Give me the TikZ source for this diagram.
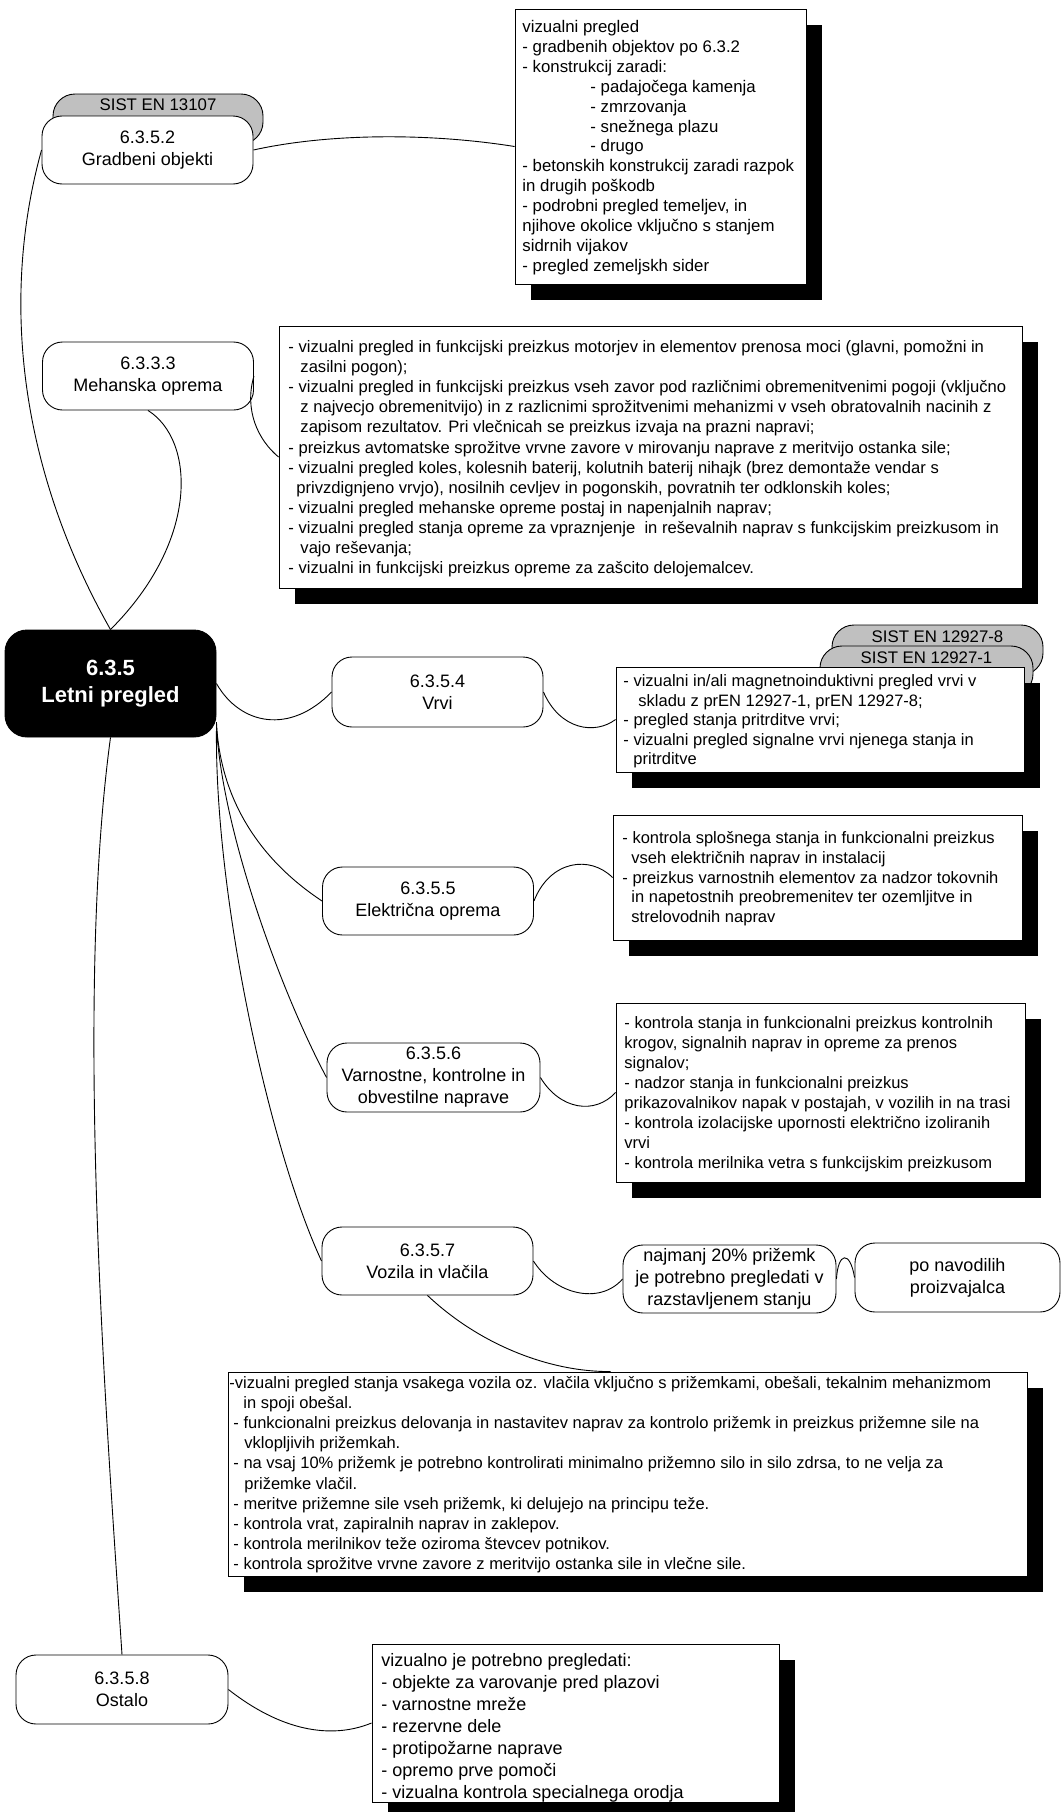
\documentclass[tikz,border=0pt]{standalone}
\usepackage{fontspec}
\setmainfont{Liberation Sans}
\usetikzlibrary{shadows}
\definecolor{tabgray}{RGB}{192,192,192}
\begin{document}
\begin{tikzpicture}[x=1pt,y=-1pt,line width=0.9pt,
  rnode/.style={draw,fill=white,rounded corners=20pt,minimum width=211pt,minimum height=68pt,inner sep=0pt,align=center,font=\fontsize{18}{22}\selectfont},
  mainnode/.style={draw,fill=black,rounded corners=22pt,minimum width=211pt,minimum height=107pt,inner sep=0pt,align=center,text=white,font=\fontsize{22}{27}\selectfont\bfseries},
  tbox/.style={draw,fill=white,inner sep=0pt,drop shadow={shadow xshift=16pt,shadow yshift=-16pt,fill=black,opacity=1}},
  tabshape/.style={draw,fill=tabgray,rounded corners=22pt,minimum height=50pt,inner sep=0pt},
  tabtext/.style={anchor=base,inner sep=0pt,font=\fontsize{16.8}{20}\selectfont},
  btext/.style={anchor=base west,inner sep=0pt,font=\fontsize{16.5}{20}\selectfont},
  conn/.style={line width=0.9pt}]
\useasboundingbox (0,0) rectangle (1063,1812);

% --- 6.3.5.2
\node[tabshape,minimum width=210pt] (tab1) at (158,119) {};
\node[tabtext] (tab1t) at (158,110) {SIST EN 13107};
\node[rnode] (gradb) at (147.5,150) {6.3.5.2\\Gradbeni objekti};
\node[tbox,minimum width=291pt,minimum height=275pt] (b1) at (660.5,146.5) {};
\node[btext,font=\fontsize{16.8}{19.9}\selectfont] (t1) at (522,32.5) {\begin{tabular}[t]{@{}l@{}}
vizualni pregled\\
- gradbenih objektov po 6.3.2\\
- konstrukcij zaradi:\\
\hspace*{68pt}- padajočega kamenja\\
\hspace*{68pt}- zmrzovanja\\
\hspace*{68pt}- snežnega plazu\\
\hspace*{68pt}- drugo\\
- betonskih konstrukcij zaradi razpok\\
in drugih poškodb\\
- podrobni pregled temeljev, in\\
njihove okolice vključno s stanjem\\
sidrnih vijakov\\
- pregled zemeljskh sider
\end{tabular}};

% --- 6.3.3.3
\node[rnode] (meh) at (148,376) {6.3.3.3\\Mehanska oprema};
\node[tbox,minimum width=743pt,minimum height=262pt] (b2) at (650.5,457) {};
\node[btext,font=\fontsize{16.6}{20.1}\selectfont] (t2) at (288,352.5) {\begin{tabular}[t]{@{}l@{}}
- vizualni pregled in funkcijski preizkus motorjev in elementov prenosa moci (glavni, pomožni in\\
\hspace*{12pt}zasilni pogon);\\
- vizualni pregled in funkcijski preizkus vseh zavor pod različnimi obremenitvenimi pogoji (vključno\\
\hspace*{12pt}z najvecjo obremenitvijo) in z razlicnimi sprožitvenimi mehanizmi v vseh obratovalnih nacinih z\\
\hspace*{12pt}zapisom rezultatov. Pri vlečnicah se preizkus izvaja na prazni napravi;\\
- preizkus avtomatske sprožitve vrvne zavore v mirovanju naprave z meritvijo ostanka sile;\\
- vizualni pregled koles, kolesnih baterij, kolutnih baterij nihajk (brez demontaže vendar s\\
\hspace*{8pt}privzdignjeno vrvjo), nosilnih cevljev in pogonskih, povratnih ter odklonskih koles;\\
- vizualni pregled mehanske opreme postaj in napenjalnih naprav;\\
- vizualni pregled stanja opreme za vpraznjenje\ \ in reševalnih naprav s funkcijskim preizkusom in\\
\hspace*{12pt}vajo reševanja;\\
- vizualni in funkcijski preizkus opreme za zašcito delojemalcev.
\end{tabular}};

% --- main
\node[mainnode] (main) at (110.5,683.5) {6.3.5\\Letni pregled};

% --- 6.3.5.4
\node[rnode,minimum height=70pt] (vrvi) at (437.5,692) {6.3.5.4\\Vrvi};
\node[tabshape,minimum width=211pt] (tab2) at (937.5,650) {};
\node[tabtext] (tab2t) at (937.5,642) {SIST EN 12927-8};
\node[tabshape,minimum width=213pt] (tab3) at (926.5,671) {};
\node[tabtext] (tab3t) at (926.5,663) {SIST EN 12927-1};
\node[tbox,minimum width=408pt,minimum height=105pt] (b3) at (820,719.5) {};
\node[btext,font=\fontsize{16.5}{19.5}\selectfont] (t3) at (623,686.5) {\begin{tabular}[t]{@{}l@{}}
- vizualni in/ali magnetnoinduktivni pregled vrvi v\\
\hspace*{15pt}skladu z prEN 12927-1, prEN 12927-8;\\
- pregled stanja pritrditve vrvi;\\
- vizualni pregled signalne vrvi njenega stanja in\\
\hspace*{10pt}pritrditve
\end{tabular}};

% --- 6.3.5.5
\node[rnode] (elek) at (428,901) {6.3.5.5\\Električna oprema};
\node[tbox,minimum width=409pt,minimum height=125pt] (b4) at (817.5,877.5) {};
\node[btext,font=\fontsize{16.5}{19.75}\selectfont] (t4) at (622,843.5) {\begin{tabular}[t]{@{}l@{}}
- kontrola splošnega stanja in funkcionalni preizkus\\
\hspace*{9pt}vseh električnih naprav in instalacij\\
- preizkus varnostnih elementov za nadzor tokovnih\\
\hspace*{9pt}in napetostnih preobremenitev ter ozemljitve in\\
\hspace*{9pt}strelovodnih naprav
\end{tabular}};

% --- 6.3.5.6
\node[rnode,minimum height=69pt,minimum width=213pt] (varn) at (433.5,1077.5) {6.3.5.6\\Varnostne, kontrolne in\\obvestilne naprave};
\node[tbox,minimum width=409pt,minimum height=179pt] (b5) at (820.5,1092.5) {};
\node[btext] (t5) at (624,1028.5) {\begin{tabular}[t]{@{}l@{}}
- kontrola stanja in funkcionalni preizkus kontrolnih\\
krogov, signalnih naprav in opreme za prenos\\
signalov;\\
- nadzor stanja in funkcionalni preizkus\\
prikazovalnikov napak v postajah, v vozilih in na trasi\\
- kontrola izolacijske upornosti električno izoliranih\\
vrvi\\
- kontrola merilnika vetra s funkcijskim preizkusom
\end{tabular}};

% --- 6.3.5.7
\node[rnode] (voz) at (427.5,1261) {6.3.5.7\\Vozila in vlačila};
\node[rnode,minimum width=213pt] (najm) at (729.5,1279) {najmanj 20\% prižemk\\je potrebno pregledati v\\razstavljenem stanju};
\node[rnode,minimum width=205pt,minimum height=69pt] (ponav) at (957.5,1277.5) {po navodilih\\proizvajalca};
\node[tbox,minimum width=799pt,minimum height=204pt] (b6) at (627.5,1474) {};
\node[btext,font=\fontsize{16.5}{20.1}\selectfont] (t6) at (229,1388.5) {\begin{tabular}[t]{@{}l@{}}
-vizualni pregled stanja vsakega vozila oz. vlačila vključno s prižemkami, obešali, tekalnim mehanizmom\\
\hspace*{14pt}in spoji obešal.\\
\hspace*{4pt}- funkcionalni preizkus delovanja in nastavitev naprav za kontrolo prižemk in preizkus prižemne sile na\\
\hspace*{15pt}vklopljivih prižemkah.\\
\hspace*{4pt}- na vsaj 10\% prižemk je potrebno kontrolirati minimalno prižemno silo in silo zdrsa, to ne velja za\\
\hspace*{15pt}prižemke vlačil.\\
\hspace*{4pt}- meritve prižemne sile vseh prižemk, ki delujejo na principu teže.\\
\hspace*{4pt}- kontrola vrat, zapiralnih naprav in zaklepov.\\
\hspace*{4pt}- kontrola merilnikov teže oziroma števcev potnikov.\\
\hspace*{4pt}- kontrola sprožitve vrvne zavore z meritvijo ostanka sile in vlečne sile.
\end{tabular}};

% --- 6.3.5.8
\node[rnode,minimum height=69pt,minimum width=212pt] (ostalo) at (122,1689.5) {6.3.5.8\\Ostalo};
\node[tbox,minimum width=407pt,minimum height=158pt] (b7) at (575.5,1723) {};
\node[btext,font=\fontsize{18}{22}\selectfont] (t7) at (381,1666.5) {\begin{tabular}[t]{@{}l@{}}
vizualno je potrebno pregledati:\\
- objekte za varovanje pred plazovi\\
- varnostne mreže\\
- rezervne dele\\
- protipožarne naprave\\
- opremo prve pomoči\\
- vizualna kontrola specialnega orodja
\end{tabular}};

% --- connectors
\draw[conn] (gradb.east) .. controls (330,133) and (430,133) .. (b1.west);
\draw[conn] (gradb.west) .. controls (0,300) and (20,470) .. (main.north);
\draw[conn] (meh.south) .. controls (195,440) and (200,540) .. (main.north);
\draw[conn] (meh.east) .. controls (244,410) and (258,440) .. (b2.west);
\draw[conn] (main.east) .. controls (240,725) and (290,735) .. (vrvi.west);
\draw[conn] (vrvi.east) .. controls (560,730) and (595,735) .. (b3.west);
\draw[conn] (main.-20) .. controls (220,800) and (260,860) .. (elek.west);
\draw[conn] (elek.east) .. controls (550,860) and (590,855) .. (b4.west);
\draw[conn] (main.-22) .. controls (222,830) and (280,990) .. (varn.west);
\draw[conn] (varn.east) .. controls (560,1110) and (595,1115) .. (b5.west);
\draw[conn] (main.-24) .. controls (215,900) and (270,1150) .. (voz.west);
\draw[conn] (voz.east) .. controls (555,1295) and (600,1305) .. (najm.west);
\draw[conn] (najm.east) .. controls (838,1252) and (850,1250) .. (ponav.west);
\draw[conn] (voz.south) .. controls (480,1345) and (550,1372) .. ([xshift=-17pt]b6.north);
\draw[conn] (main.south) .. controls (75,1000) and (105,1400) .. (ostalo.north);
\draw[conn] (ostalo.east) .. controls (280,1730) and (330,1740) .. (b7.west);
\end{tikzpicture}
\end{document}
